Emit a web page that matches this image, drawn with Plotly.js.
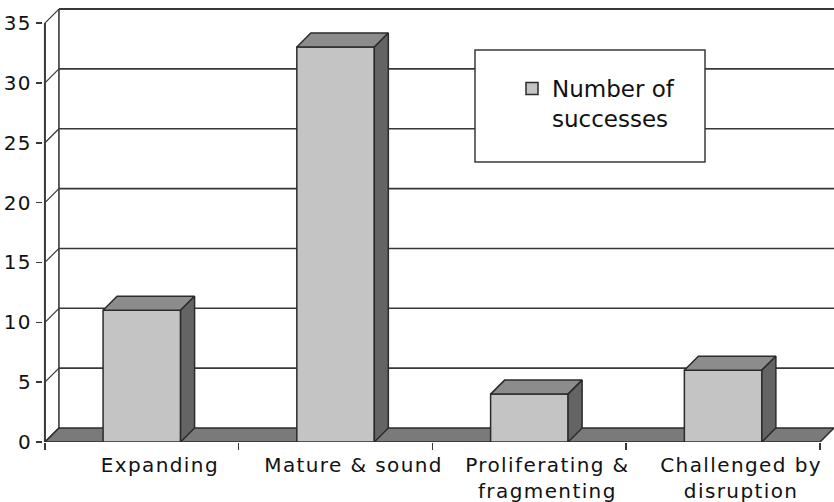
<!DOCTYPE html>
<html>
<head>
<meta charset="utf-8">
<script src="https://cdn.plot.ly/plotly-3.0.1.min.js"></script>
<style>
  html, body { margin: 0; padding: 0; background: #fff; }
  #chart { width: 834px; height: 502px; }
  /* the wide, loosely set lettering of the axis labels */
  #chart .xtick text, #chart .ytick text { letter-spacing: 1.4px; }
</style>
</head>
<body>
<div id="chart"></div>
<script>
// Market-state categories and the number of successes in each
const categories = ['Expanding', 'Mature & sound', 'Proliferating &<br>fragmenting', 'Challenged by<br>disruption'];
const successes = [11, 33, 4, 6];
const yTickValues = [0, 5, 10, 15, 20, 25, 30, 35];
const seriesName = 'Number of<br>successes';

// Pseudo-3D depth of the box, in axis units (x: per category, y: per count)
const PX_PER_CAT = 193.7;
const PX_PER_UNIT = 11.97;
const DX = 14 / PX_PER_CAT;
const DY = 14 / PX_PER_UNIT;
const HALF = 0.2;           // half of a column's front width
const X_LO = -0.5, X_HI = categories.length - 0.5;
const Y_TOP = yTickValues[yTickValues.length - 1];

const idx = categories.map((_, i) => i);

const FRONT = '#c4c4c4', TOP = '#8c8c8c', SIDE = '#646464', FLOOR = '#7a7a7a', EDGE = '#2b2b2b', GRID = '#383838';

// top and side faces of each column, one polygon per column
const topX = [], topY = [], sideX = [], sideY = [];
idx.forEach(i => {
  const v = successes[i], l = i - HALF, r = i + HALF;
  topX.push(l, r, r + DX, l + DX, l, null);
  topY.push(v, v, v + DY, v + DY, v, null);
  sideX.push(r, r + DX, r + DX, r, r, null);
  sideY.push(0, DY, v + DY, v, 0, null);
});

const traces = [
  {
    type: 'bar', x: idx, y: successes, width: 2 * HALF, name: seriesName,
    marker: { color: FRONT, line: { color: EDGE, width: 1.5 } },
    hoverinfo: 'skip'
  },
  {
    type: 'scatter', mode: 'lines', x: topX, y: topY, fill: 'toself',
    fillcolor: TOP, line: { color: EDGE, width: 1.5 }, showlegend: false, hoverinfo: 'skip'
  },
  {
    type: 'scatter', mode: 'lines', x: sideX, y: sideY, fill: 'toself',
    fillcolor: SIDE, line: { color: EDGE, width: 1.5 }, showlegend: false, hoverinfo: 'skip'
  },
  // invisible trace carrying the tick marks at category boundaries
  {
    type: 'scatter', mode: 'markers', x: [X_LO], y: [0], xaxis: 'x2',
    marker: { opacity: 0 }, showlegend: false, hoverinfo: 'skip'
  }
];

const shapes = [];
const seg = (x0, y0, x1, y1, w) => shapes.push({
  type: 'line', xref: 'x', yref: 'y', x0, y0, x1, y1, layer: 'below',
  line: { color: GRID, width: w || 1.5 }
});

// back wall: gridlines, top edge, left edge
yTickValues.forEach(v => {
  if (v > 0) seg(X_LO + DX, v + DY, X_HI + DX, v + DY, v === Y_TOP ? 2 : 1.6);
  seg(X_LO, v, X_LO + DX, v + DY, 1.2);   // left wall diagonals
});
seg(X_LO + DX, DY, X_LO + DX, Y_TOP + DY, 1.6);
// front value axis
seg(X_LO, 0, X_LO, Y_TOP, 2);

// floor
shapes.push({
  type: 'path', xref: 'x', yref: 'y', layer: 'below',
  path: `M${X_LO},0 L${X_HI},0 L${X_HI + DX},${DY} L${X_LO + DX},${DY} Z`,
  fillcolor: FLOOR, line: { color: EDGE, width: 1.5 }
});

// legend frame
const W = 834, H = 502, M = { l: 43, r: 0, t: 8, b: 60 };
const PW = W - M.l - M.r, PH = H - M.t - M.b;
const px = x => (x - M.l) / PW;
const py = y => 1 - (y - M.t) / PH;
shapes.push({
  type: 'rect', xref: 'paper', yref: 'paper', layer: 'above',
  x0: px(475), x1: px(705), y0: py(162), y1: py(50),
  fillcolor: '#ffffff', line: { color: '#3a3a3a', width: 1.5 }
});

const font = { family: 'DejaVu Sans, Verdana, sans-serif', color: '#111111' };

const layout = {
  width: W, height: H, margin: M,
  paper_bgcolor: '#ffffff', plot_bgcolor: '#ffffff',
  font: Object.assign({ size: 20 }, font),
  showlegend: true,
  legend: {
    x: px(512), y: py(67), xanchor: 'left', yanchor: 'top',
    bgcolor: 'rgba(0,0,0,0)', borderwidth: 0, valign: 'top',
    font: Object.assign({ size: 23 }, font)
  },
  xaxis: {
    range: [X_LO - 0.01, X_HI + DX], tickvals: idx, ticktext: categories,
    ticks: '', showgrid: false, zeroline: false, showline: false,
    ticklabelshift: 18, ticklabelstandoff: 9, fixedrange: true,
    tickfont: Object.assign({ size: 20 }, font)
  },
  xaxis2: {
    overlaying: 'x', matches: 'x', side: 'bottom', anchor: 'y',
    tickvals: categories.map((_, i) => i - 0.5).concat([X_HI]),
    ticks: 'outside', ticklen: 7, tickwidth: 1.5, tickcolor: GRID,
    showticklabels: false, showgrid: false, zeroline: false, showline: false
  },
  yaxis: {
    range: [0, PH / PX_PER_UNIT], tickvals: yTickValues,
    ticks: 'outside', ticklen: 6, tickwidth: 1.5, tickcolor: GRID,
    ticklabelstandoff: 0, showgrid: false, zeroline: false, showline: false,
    fixedrange: true, tickfont: Object.assign({ size: 20 }, font)
  },
  shapes,
  bargap: 0
};

Plotly.newPlot('chart', traces, layout, { displayModeBar: false, staticPlot: true });
</script>
</body>
</html>
